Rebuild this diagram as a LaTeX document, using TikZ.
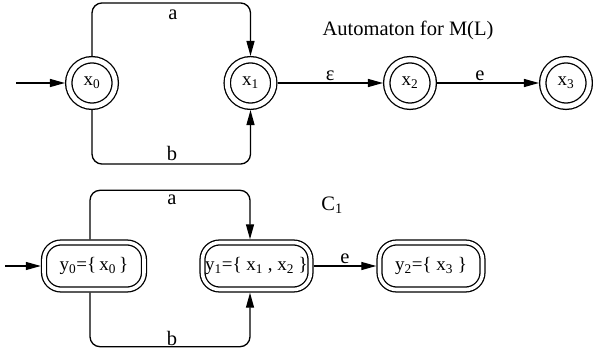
\documentclass[tikz,border=0pt]{standalone}
\usepackage{fontspec}
\setmainfont{Liberation Serif}
\usetikzlibrary{arrows.meta,positioning}

\begin{document}
\begin{tikzpicture}[
  x=1pt, y=1pt,
  >={Triangle[length=15pt,width=8pt]},
  state/.style={circle, draw, double, double distance=5pt, line width=1.3pt,
                minimum size=46.5pt, inner sep=0pt, outer sep=3.8pt,
                font=\fontsize{19}{22}\selectfont},
  subset/.style={rectangle, rounded corners=17pt, draw, double, double distance=3.6pt,
                 line width=1.3pt, minimum height=47pt, inner sep=0pt, outer sep=3.2pt,
                 font=\fontsize{19}{22}\selectfont},
  trans/.style={->, line width=1.3pt},
  lbl/.style={font=\fontsize{20.5}{24}\selectfont, inner sep=1pt},
]
\useasboundingbox (0,0) rectangle (593,356);

% Automaton for M(L)
\node[state] (x0) at (92,273) {x\textsubscript{0}};
\node[state] (x1) at (250.5,273) {x\textsubscript{1}};
\node[state] (x2) at (410,273) {x\textsubscript{2}};
\node[state] (x3) at (566,273) {x\textsubscript{3}};
\coordinate (xin) at (16,273);

\draw[trans] (xin) -- (x0);
\draw[trans, rounded corners=10pt] (x0.north) -- ++(0,53) -| (x1.north);
\draw[trans, rounded corners=10pt] (x0.south) -- ++(0,-54) -| (x1.south);
\draw[trans] (x1) -- node[lbl, above=1pt] {ε} (x2);
\draw[trans] (x2) -- node[lbl, above=1pt, xshift=-8pt] {e} (x3);

\node[lbl] (xa) at (173,341) {a};
\node[lbl] (xb) at (172,203) {b};
\node[lbl] (title) at (408,326) {Automaton for M(L)};

% C_1
\node[subset, minimum width=100pt] (y0) at (94,90)
  {y\textsubscript{0}=\{\,x\textsubscript{0}\,\}};
\node[subset, minimum width=108pt] (y1) at (256.5,90)
  {y\textsubscript{1}=\{ x\textsubscript{1} , x\textsubscript{2} \}};
\node[subset, minimum width=103pt] (y2) at (431,90)
  {y\textsubscript{2}=\{ x\textsubscript{3} \}};
\coordinate (yin) at (5,90);

\draw[trans] (yin) -- (y0);
\draw[trans, rounded corners=10pt] ([xshift=-4pt]y0.north) -- ++(0,49) -| ([xshift=-6.5pt]y1.north);
\draw[trans, rounded corners=10pt] ([xshift=-4pt]y0.south) -- ++(0,-54) -| ([xshift=-6.5pt]y1.south);
\draw[trans] (y1) -- node[lbl, above=1pt] {e} (y2);

\node[lbl] (ya) at (172,156) {a};
\node[lbl] (yb) at (172,18) {b};
\node[lbl] (c1) at (332,151) {C\textsubscript{1}};
\end{tikzpicture}
\end{document}
